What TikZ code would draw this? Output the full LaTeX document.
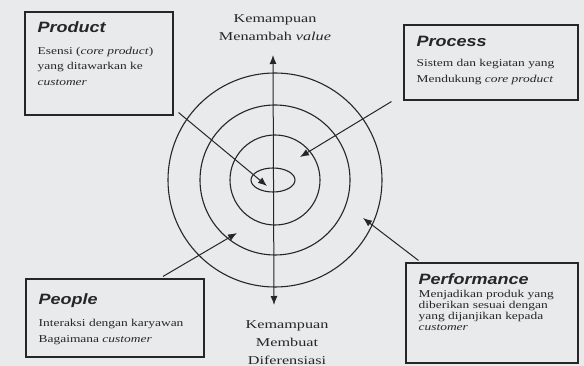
\documentclass[tikz,border=0pt]{standalone}
\usepackage{fontspec}
\setmainfont{Liberation Serif}
\newfontfamily\titlefont[FakeStretch=1.2]{Liberation Sans}
\newfontfamily\bodyfont[FakeStretch=1.28]{Liberation Serif}
\newfontfamily\axisfont[FakeStretch=1.35]{Liberation Serif}
\usepackage{xcolor}
\definecolor{ScanPaper}{RGB}{233,234,236}
\definecolor{InkDark}{RGB}{38,38,40}
\usetikzlibrary{arrows.meta}

\begin{document}
\begin{tikzpicture}[
    x=1pt, y=-1pt,
    infobox/.style={
        draw=InkDark, line width=1.1pt,
        fill=ScanPaper, inner sep=0pt
    },
    boxtitle/.style={
        anchor=base west, inner sep=0pt, text=InkDark,
        font=\titlefont\bfseries\itshape\fontsize{15}{18}\selectfont
    },
    boxtext/.style={
        anchor=base west, inner sep=0pt, align=left, text=InkDark,
        font=\bodyfont\fontsize{10.5}{15.5}\selectfont
    },
    ring/.style={
        draw=InkDark, line width=1.1pt
    },
    axis/.style={
        {Latex[length=9pt,width=7pt]}-{Latex[length=9pt,width=7pt]},
        draw=InkDark, line width=1pt
    },
    pointer/.style={
        -{Latex[length=9pt,width=7pt]}, draw=InkDark, line width=1pt
    },
    axislabel/.style={
        anchor=base, align=center, inner sep=0pt, text=InkDark,
        font=\axisfont\fontsize{12}{17.5}\selectfont
    }
]

% ====== FOND ======
\fill[ScanPaper] (0,0) rectangle (584,366);
\useasboundingbox (0,0) rectangle (584,366);

% ====== CERCLES ======
\coordinate (core) at (275,180);
\foreach \r in {45,75,107}
    \draw[ring] (core) circle[radius=\r pt];
\draw[ring] (273,180) ellipse[x radius=22pt, y radius=12pt];

% ====== AXE VERTICAL ======
\coordinate (axistop)    at (273,55);
\coordinate (axisbottom) at (274,305);
\draw[axis] (axisbottom) -- (axistop);

% (ancre base = ligne du bas)
\node[axislabel] (valuelbl) at (275,40.5) {Kemampuan\\Menambah \textit{value}};
\node[axislabel, font=\axisfont\fontsize{12}{18}\selectfont] (difflbl) at (287,364)
    {Kemampuan\\Membuat\\Diferensiasi};

% ====== BOITES ======
\node[infobox, minimum width=148pt, minimum height=103pt] (product) at (99,63.5)  {};
\node[infobox, minimum width=174pt, minimum height=75pt]  (process) at (491,62.5) {};
\node[infobox, minimum width=178pt, minimum height=78pt]  (people)  at (115,318)  {};
\node[infobox, minimum width=172pt, minimum height=100pt] (perf)    at (492,313)  {};

% Product
\node[boxtitle] (producttitle) at ([shift={(13pt,-21pt)}]product.north west) {Product};
\node[boxtext]  (producttext)  at ([shift={(13pt,-74pt)}]product.north west)
    {Esensi (\textit{core product})\\yang ditawarkan ke\\\textit{customer}};

% Process
\node[boxtitle] (processtitle) at ([shift={(13pt,-22pt)}]process.north west) {Process};
\node[boxtext]  (processtext)  at ([shift={(13pt,-58pt)}]process.north west)
    {Sistem dan kegiatan yang\\Mendukung \textit{core product}};

% People
\node[boxtitle] (peopletitle) at ([shift={(13pt,-26pt)}]people.north west) {People};
\node[boxtext]  (peopletext)  at ([shift={(13pt,-64pt)}]people.north west)
    {Interaksi dengan karyawan\\Bagaimana \textit{customer}};

% Performance
\node[boxtitle] (perftitle) at ([shift={(13pt,-22pt)}]perf.north west) {Performance};
\node[boxtext, font=\bodyfont\fontsize{10.5}{11}\selectfont] (perftext)
    at ([shift={(13pt,-68pt)}]perf.north west)
    {Menjadikan produk yang\\diberikan sesuai dengan\\yang dijanjikan kepada\\\textit{customer}};

% ====== FLECHES ======
\coordinate (producttip) at (267,186);
\coordinate (processtip) at (300,157);
\coordinate (peopletip)  at (237,233);
\coordinate (perftip)    at (363,218);

\draw[pointer] ([xshift=5pt,yshift=3pt]product.south east) -- (producttip);
\draw[pointer] ([xshift=-12pt,yshift=-1pt]process.south west) -- (processtip);
\draw[pointer] ([xshift=48pt,yshift=2pt]people.north) -- (peopletip);
\draw[pointer] ([xshift=13pt,yshift=2pt]perf.north west) -- (perftip);

\end{tikzpicture}
\end{document}
